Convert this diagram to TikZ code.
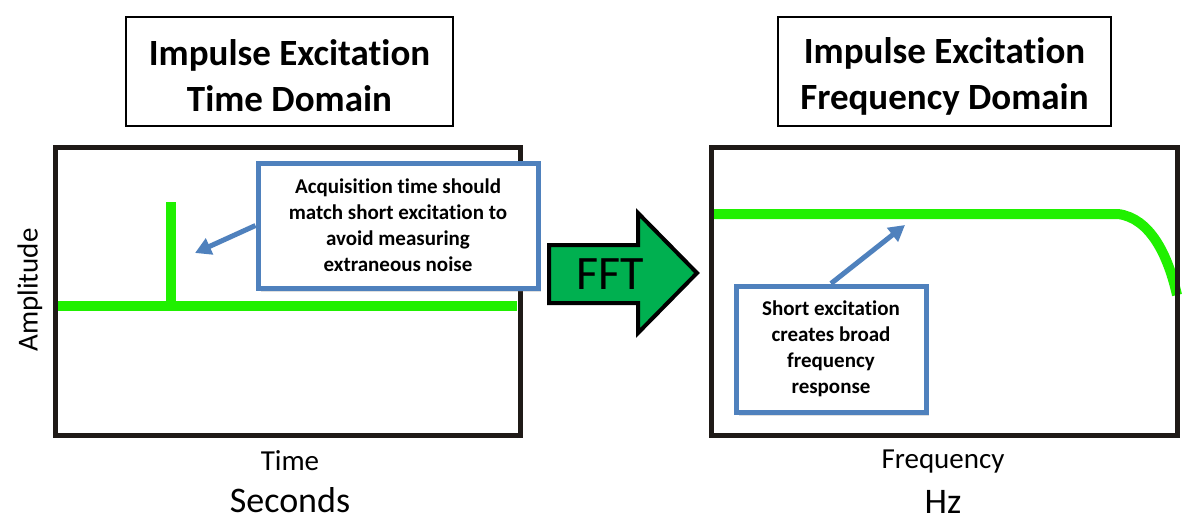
\documentclass[tikz,border=0pt]{standalone}
\usepackage{fontspec}
\setmainfont{Carlito}[Ligatures=NoCommon]
\usetikzlibrary{arrows.meta,shadows}
\definecolor{cblue}{HTML}{4F81BD}
\definecolor{cgreen}{HTML}{20F000}
\definecolor{fftgreen}{HTML}{00B050}
\definecolor{frame}{HTML}{1F1A17}
\tikzset{
  titlebox/.style={draw=black, line width=1.5pt, fill=white, inner sep=0pt},
  titletext/.style={inner sep=0pt, align=center, font=\fontsize{37}{46}\selectfont\bfseries},
  plotbox/.style={draw=frame, line width=5pt, inner sep=0pt},
  callbox/.style={draw=cblue, line width=5pt, fill=white, inner sep=0pt, align=center,
    font=\fontsize{21}{26}\selectfont\bfseries,
    drop shadow={shadow xshift=3pt, shadow yshift=-4pt, opacity=0.25}},
  callarrow/.style={draw=cblue, line width=5pt, -{Triangle[length=16pt,width=17pt]}},
  sig/.style={draw=cgreen, line width=10pt},
  axlabel/.style={inner sep=0pt, font=\fontsize{29}{32}\selectfont},
  unitlabel/.style={inner sep=0pt, font=\fontsize{36}{40}\selectfont},
}
\begin{document}
\begin{tikzpicture}[x=1pt,y=-1pt]
\useasboundingbox[fill=white] (0,0) rectangle (1188,523);
% titles
\node[titlebox, minimum width=327pt, minimum height=109pt] (lt) at (289.5,71.5) {};
\node[titletext] (ltt) at (289.5,76) {Impulse Excitation\\Time Domain};
\node[titlebox, minimum width=333pt, minimum height=109pt] (rt) at (944.5,71.5) {};
\node[titletext] (rtt) at (944.5,76) {Impulse Excitation\\Frequency Domain};
% left plot
\draw[sig] (57,306) -- (517,306);
\draw[sig] (171,306) -- (171,202);
\node[plotbox, minimum width=465pt, minimum height=288pt] (lp) at (287.5,291) {};
% right plot
\draw[sig, line cap=butt] (713,214) -- (1118,214) .. controls (1150,218) and (1168,255) .. (1177,295);
\node[plotbox, minimum width=466pt, minimum height=288pt] (rp) at (944,291) {};
% callouts
\node[callbox, minimum width=280pt, minimum height=125pt] (lc) at (398,225.5)
  {Acquisition time should\\match short excitation to\\avoid measuring\\extraneous noise};
\coordinate (la) at (195,253);
\draw[callarrow] (lc.west) -- (la);
\node[callbox, minimum width=190pt, minimum height=126pt] (rc) at (831,349)
  {Short excitation\\creates broad\\frequency\\response};
\coordinate (ra) at (905,225);
\draw[callarrow] (rc.north) -- (ra);
% FFT arrow
\draw[fill=fftgreen, draw=black, line width=4pt, line join=miter]
  (549,245) -- (638,245) -- (638,213) -- (697,273) -- (638,333) -- (638,303) -- (549,303) -- cycle;
\node[inner sep=0pt, font=\fontsize{48}{52}\selectfont] (fft) at (610,274) {FFT};
% axis labels
\node[axlabel, rotate=90] (amp) at (30,290) {Amplitude};
\node[axlabel] (time) at (290,461) {Time};
\node[unitlabel] (sec) at (290,500) {Seconds};
\node[axlabel] (freq) at (943,462) {Frequency};
\node[unitlabel] (hz) at (943,502) {Hz};
\end{tikzpicture}
\end{document}
